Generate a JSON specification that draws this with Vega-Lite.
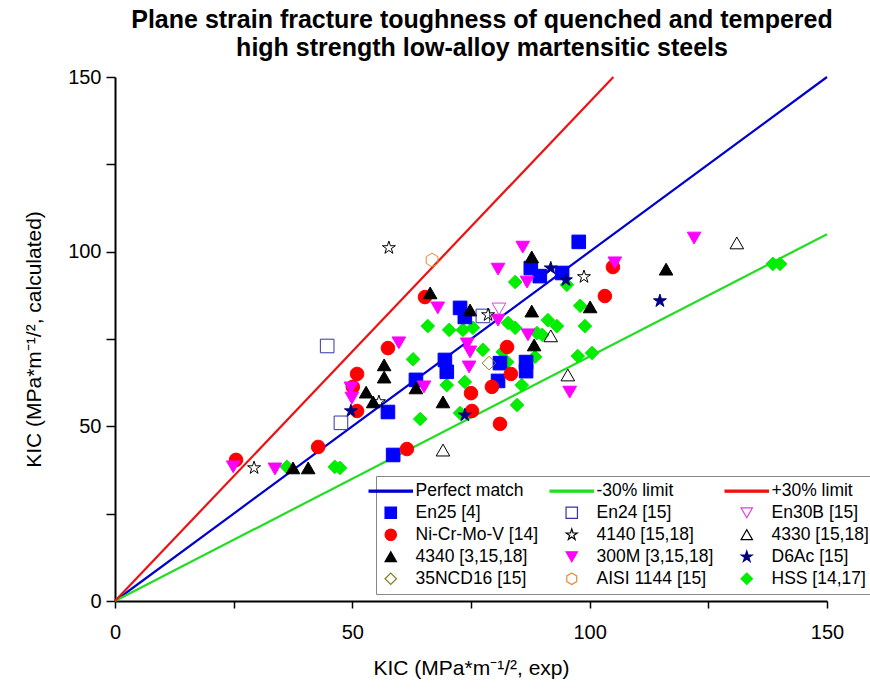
{
  "$schema": "https://vega.github.io/schema/vega-lite/v6.json",
  "autosize": {"type": "none"},
  "padding": {"left": 115, "top": 77, "right": 43, "bottom": 94},
  "width": 712,
  "height": 524,
  "background": "white",
  "title": {
    "text": ["Plane strain fracture toughness of quenched and tempered", "high strength low-alloy martensitic steels"],
    "font": "Liberation Sans", "fontSize": 25, "fontWeight": "bold", "color": "black",
    "lineHeight": 28, "anchor": "middle", "offset": 6, "dx": 11
  },
  "config": {
    "view": {"stroke": null},
    "axis": {
      "domainColor": "black", "domainWidth": 2, "tickColor": "black", "tickWidth": 1.5,
      "labelFont": "Liberation Sans", "labelFontSize": 20, "labelColor": "black",
      "titleFont": "Liberation Sans", "titleFontSize": 21, "titleFontWeight": "normal", "titleColor": "black",
      "grid": false, "labelFlush": false, "labelOverlap": false
    },
    "legend": {
      "orient": "none", "legendX": 261, "legendY": 399, "columns": 3, "direction": "horizontal",
      "labelFont": "Liberation Sans", "labelFontSize": 17.5, "labelColor": "black",
      "symbolSize": 130, "symbolStrokeWidth": 1.2, "strokeColor": "#888888", "fillColor": "white",
      "padding": 6, "rowPadding": 3, "columnPadding": 8, "labelOffset": 16, "labelLimit": 300
    }
  },
  "datasets": {
    "lines": [
      {"series": "Perfect match", "exp": 0, "calc": 0},
      {"series": "Perfect match", "exp": 150, "calc": 150},
      {"series": "-30% limit", "exp": 0, "calc": 0},
      {"series": "-30% limit", "exp": 150, "calc": 105},
      {"series": "+30% limit", "exp": 0, "calc": 0},
      {"series": "+30% limit", "exp": 105, "calc": 150}
    ],
    "pts": [
      {"series": "HSS [14,17]", "exp": 36.2, "calc": 38.4},
      {"series": "HSS [14,17]", "exp": 46.3, "calc": 38.4},
      {"series": "HSS [14,17]", "exp": 47.4, "calc": 38.1},
      {"series": "HSS [14,17]", "exp": 62.8, "calc": 69.2},
      {"series": "HSS [14,17]", "exp": 64.3, "calc": 52.1},
      {"series": "HSS [14,17]", "exp": 65.9, "calc": 78.7},
      {"series": "HSS [14,17]", "exp": 70.4, "calc": 77.6},
      {"series": "HSS [14,17]", "exp": 73.3, "calc": 77.6},
      {"series": "HSS [14,17]", "exp": 75.4, "calc": 78.2},
      {"series": "HSS [14,17]", "exp": 69.9, "calc": 61.8},
      {"series": "HSS [14,17]", "exp": 73.7, "calc": 62.7},
      {"series": "HSS [14,17]", "exp": 72.7, "calc": 53.8},
      {"series": "HSS [14,17]", "exp": 77.5, "calc": 71.9},
      {"series": "HSS [14,17]", "exp": 81.7, "calc": 71.3},
      {"series": "HSS [14,17]", "exp": 82.6, "calc": 68.4},
      {"series": "HSS [14,17]", "exp": 84.3, "calc": 91.3},
      {"series": "HSS [14,17]", "exp": 82.8, "calc": 79.6},
      {"series": "HSS [14,17]", "exp": 84.3, "calc": 78.2},
      {"series": "HSS [14,17]", "exp": 88.9, "calc": 76.7},
      {"series": "HSS [14,17]", "exp": 90.0, "calc": 76.2},
      {"series": "HSS [14,17]", "exp": 91.2, "calc": 80.4},
      {"series": "HSS [14,17]", "exp": 93.1, "calc": 78.7},
      {"series": "HSS [14,17]", "exp": 95.2, "calc": 90.5},
      {"series": "HSS [14,17]", "exp": 98.0, "calc": 84.5},
      {"series": "HSS [14,17]", "exp": 99.0, "calc": 78.7},
      {"series": "HSS [14,17]", "exp": 88.5, "calc": 69.9},
      {"series": "HSS [14,17]", "exp": 85.7, "calc": 61.8},
      {"series": "HSS [14,17]", "exp": 84.7, "calc": 56.1},
      {"series": "HSS [14,17]", "exp": 97.5, "calc": 70.1},
      {"series": "HSS [14,17]", "exp": 100.5, "calc": 71.0},
      {"series": "HSS [14,17]", "exp": 138.6, "calc": 96.5},
      {"series": "HSS [14,17]", "exp": 140.1, "calc": 96.5},
      {"series": "En25 [4]", "exp": 97.7, "calc": 102.8},
      {"series": "En25 [4]", "exp": 87.6, "calc": 95.3},
      {"series": "En25 [4]", "exp": 89.5, "calc": 93.0},
      {"series": "En25 [4]", "exp": 94.2, "calc": 93.9},
      {"series": "En25 [4]", "exp": 72.7, "calc": 83.9},
      {"series": "En25 [4]", "exp": 73.7, "calc": 81.3},
      {"series": "En25 [4]", "exp": 69.5, "calc": 69.0},
      {"series": "En25 [4]", "exp": 69.9, "calc": 65.6},
      {"series": "En25 [4]", "exp": 81.1, "calc": 68.1},
      {"series": "En25 [4]", "exp": 86.6, "calc": 68.4},
      {"series": "En25 [4]", "exp": 86.6, "calc": 65.8},
      {"series": "En25 [4]", "exp": 80.7, "calc": 63.0},
      {"series": "En25 [4]", "exp": 63.4, "calc": 63.3},
      {"series": "En25 [4]", "exp": 57.5, "calc": 54.1},
      {"series": "En25 [4]", "exp": 58.6, "calc": 41.8},
      {"series": "Ni-Cr-Mo-V [14]", "exp": 25.5, "calc": 40.4},
      {"series": "Ni-Cr-Mo-V [14]", "exp": 42.8, "calc": 44.1},
      {"series": "Ni-Cr-Mo-V [14]", "exp": 51.0, "calc": 54.4},
      {"series": "Ni-Cr-Mo-V [14]", "exp": 50.1, "calc": 61.3},
      {"series": "Ni-Cr-Mo-V [14]", "exp": 51.0, "calc": 65.0},
      {"series": "Ni-Cr-Mo-V [14]", "exp": 57.5, "calc": 72.4},
      {"series": "Ni-Cr-Mo-V [14]", "exp": 65.3, "calc": 87.0},
      {"series": "Ni-Cr-Mo-V [14]", "exp": 61.5, "calc": 43.5},
      {"series": "Ni-Cr-Mo-V [14]", "exp": 75.2, "calc": 54.4},
      {"series": "Ni-Cr-Mo-V [14]", "exp": 75.0, "calc": 59.5},
      {"series": "Ni-Cr-Mo-V [14]", "exp": 79.4, "calc": 61.3},
      {"series": "Ni-Cr-Mo-V [14]", "exp": 82.6, "calc": 72.7},
      {"series": "Ni-Cr-Mo-V [14]", "exp": 83.4, "calc": 65.0},
      {"series": "Ni-Cr-Mo-V [14]", "exp": 81.1, "calc": 50.7},
      {"series": "Ni-Cr-Mo-V [14]", "exp": 103.2, "calc": 87.3},
      {"series": "Ni-Cr-Mo-V [14]", "exp": 104.9, "calc": 95.6},
      {"series": "4340 [3,15,18]", "exp": 37.5, "calc": 38.1},
      {"series": "4340 [3,15,18]", "exp": 40.7, "calc": 38.1},
      {"series": "4340 [3,15,18]", "exp": 52.9, "calc": 59.8},
      {"series": "4340 [3,15,18]", "exp": 54.4, "calc": 57.0},
      {"series": "4340 [3,15,18]", "exp": 56.7, "calc": 67.6},
      {"series": "4340 [3,15,18]", "exp": 56.7, "calc": 64.1},
      {"series": "4340 [3,15,18]", "exp": 63.4, "calc": 61.0},
      {"series": "4340 [3,15,18]", "exp": 66.4, "calc": 88.2},
      {"series": "4340 [3,15,18]", "exp": 69.1, "calc": 57.0},
      {"series": "4340 [3,15,18]", "exp": 74.8, "calc": 83.3},
      {"series": "4340 [3,15,18]", "exp": 87.8, "calc": 98.5},
      {"series": "4340 [3,15,18]", "exp": 87.8, "calc": 83.0},
      {"series": "4340 [3,15,18]", "exp": 88.3, "calc": 73.3},
      {"series": "4340 [3,15,18]", "exp": 100.1, "calc": 84.2},
      {"series": "4340 [3,15,18]", "exp": 116.1, "calc": 95.0},
      {"series": "300M [3,15,18]", "exp": 24.9, "calc": 38.4},
      {"series": "300M [3,15,18]", "exp": 33.7, "calc": 37.8},
      {"series": "300M [3,15,18]", "exp": 49.7, "calc": 61.0},
      {"series": "300M [3,15,18]", "exp": 49.9, "calc": 58.1},
      {"series": "300M [3,15,18]", "exp": 59.8, "calc": 73.9},
      {"series": "300M [3,15,18]", "exp": 65.1, "calc": 61.3},
      {"series": "300M [3,15,18]", "exp": 68.0, "calc": 83.9},
      {"series": "300M [3,15,18]", "exp": 74.2, "calc": 73.6},
      {"series": "300M [3,15,18]", "exp": 74.8, "calc": 71.3},
      {"series": "300M [3,15,18]", "exp": 74.6, "calc": 67.0},
      {"series": "300M [3,15,18]", "exp": 80.7, "calc": 95.0},
      {"series": "300M [3,15,18]", "exp": 80.7, "calc": 80.4},
      {"series": "300M [3,15,18]", "exp": 85.9, "calc": 101.3},
      {"series": "300M [3,15,18]", "exp": 86.8, "calc": 91.3},
      {"series": "300M [3,15,18]", "exp": 87.0, "calc": 76.2},
      {"series": "300M [3,15,18]", "exp": 95.8, "calc": 59.8},
      {"series": "300M [3,15,18]", "exp": 105.3, "calc": 96.8},
      {"series": "300M [3,15,18]", "exp": 122.0, "calc": 103.9},
      {"series": "D6Ac [15]", "exp": 49.7, "calc": 54.4},
      {"series": "D6Ac [15]", "exp": 73.7, "calc": 53.2},
      {"series": "D6Ac [15]", "exp": 91.8, "calc": 95.3},
      {"series": "D6Ac [15]", "exp": 95.0, "calc": 91.9},
      {"series": "D6Ac [15]", "exp": 114.8, "calc": 85.9},
      {"series": "En24 [15]", "exp": 44.7, "calc": 73.0},
      {"series": "En24 [15]", "exp": 47.6, "calc": 51.0},
      {"series": "En24 [15]", "exp": 77.5, "calc": 81.6},
      {"series": "En30B [15]", "exp": 80.9, "calc": 83.6},
      {"series": "4140 [15,18]", "exp": 29.3, "calc": 38.1},
      {"series": "4140 [15,18]", "exp": 55.6, "calc": 57.0},
      {"series": "4140 [15,18]", "exp": 57.7, "calc": 101.1},
      {"series": "4140 [15,18]", "exp": 78.6, "calc": 81.9},
      {"series": "4140 [15,18]", "exp": 98.8, "calc": 92.8},
      {"series": "4330 [15,18]", "exp": 69.1, "calc": 43.2},
      {"series": "4330 [15,18]", "exp": 91.8, "calc": 75.9},
      {"series": "4330 [15,18]", "exp": 95.4, "calc": 64.7},
      {"series": "4330 [15,18]", "exp": 131.0, "calc": 102.5},
      {"series": "35NCD16 [15]", "exp": 78.8, "calc": 68.1},
      {"series": "AISI 1144 [15]", "exp": 66.8, "calc": 97.6}
    ]
  },
  "encoding": {
    "x": {
      "field": "exp", "type": "quantitative",
      "scale": {"domain": [0, 150], "nice": false},
      "axis": {
        "values": [0, 25, 50, 75, 100, 125, 150],
        "labelExpr": "datum.value % 50 == 0 ? datum.label : ''",
        "tickSize": 7, "labelPadding": 14,
        "title": "KIC (MPa*m⁻¹/², exp)", "titlePadding": 15,
        "encode": {"ticks": {"update": {
          "y": {"signal": "datum.value % 50 == 0 ? 0 : -7"},
          "y2": {"signal": "datum.value % 50 == 0 ? 7 : 0"}
        }}}
      }
    },
    "y": {
      "field": "calc", "type": "quantitative",
      "scale": {"domain": [0, 150], "nice": false},
      "axis": {
        "values": [0, 25, 50, 75, 100, 125, 150],
        "labelExpr": "datum.value % 50 == 0 ? datum.label : ''",
        "tickSize": 9, "labelPadding": 5,
        "title": "KIC (MPa*m⁻¹/², calculated)", "titlePadding": 23
      }
    }
  },
  "layer": [
    {
      "data": {"name": "lines"},
      "mark": {"type": "line", "strokeWidth": 2.2},
      "encoding": {
        "color": {
          "field": "series", "type": "nominal", "title": null,
          "scale": {
            "domain": ["Perfect match", "-30% limit", "+30% limit", "En25 [4]", "En24 [15]", "En30B [15]", "Ni-Cr-Mo-V [14]", "4140 [15,18]", "4330 [15,18]", "4340 [3,15,18]", "300M [3,15,18]", "D6Ac [15]", "35NCD16 [15]", "AISI 1144 [15]", "HSS [14,17]"],
            "range": ["#0000D0", "#22DD22", "#EE1111", "#0000FF", "#3333AA", "#E040E0", "#FF0000", "#000000", "#000000", "#000000", "#FF00FF", "#000080", "#808020", "#EE8833", "#00EE00"]
          }
        }
      }
    },
    {
      "data": {"name": "pts"},
      "mark": {"type": "point", "filled": false, "strokeWidth": 1, "opacity": 1, "size": 185},
      "encoding": {
        "color": {"field": "series", "type": "nominal", "title": null},
        "shape": {
          "field": "series", "type": "nominal", "title": null,
          "scale": {
            "domain": ["Perfect match", "-30% limit", "+30% limit", "En25 [4]", "En24 [15]", "En30B [15]", "Ni-Cr-Mo-V [14]", "4140 [15,18]", "4330 [15,18]", "4340 [3,15,18]", "300M [3,15,18]", "D6Ac [15]", "35NCD16 [15]", "AISI 1144 [15]", "HSS [14,17]"],
            "range": [
              "M-3.8,-0.18H3.8V0.18H-3.8Z", "M-3.8,-0.18H3.8V0.18H-3.8Z", "M-3.8,-0.18H3.8V0.18H-3.8Z",
              "square", "square", "triangle-down", "circle",
              "M0,-1L0.225,-0.309L0.951,-0.309L0.363,0.118L0.588,0.809L0,0.382L-0.588,0.809L-0.363,0.118L-0.951,-0.309L-0.225,-0.309Z",
              "triangle-up", "triangle-up", "triangle-down",
              "M0,-1L0.225,-0.309L0.951,-0.309L0.363,0.118L0.588,0.809L0,0.382L-0.588,0.809L-0.363,0.118L-0.951,-0.309L-0.225,-0.309Z",
              "diamond",
              "M0,-1L0.866,-0.5L0.866,0.5L0,1L-0.866,0.5L-0.866,-0.5Z",
              "diamond"
            ]
          }
        },
        "fill": {
          "field": "series", "type": "nominal", "title": null,
          "scale": {
            "domain": ["Perfect match", "-30% limit", "+30% limit", "En25 [4]", "En24 [15]", "En30B [15]", "Ni-Cr-Mo-V [14]", "4140 [15,18]", "4330 [15,18]", "4340 [3,15,18]", "300M [3,15,18]", "D6Ac [15]", "35NCD16 [15]", "AISI 1144 [15]", "HSS [14,17]"],
            "range": ["#0000D0", "#22DD22", "#EE1111", "#0000FF", "transparent", "transparent", "#FF0000", "transparent", "transparent", "#000000", "#FF00FF", "#000080", "transparent", "transparent", "#00EE00"]
          }
        }
      }
    }
  ]
}
